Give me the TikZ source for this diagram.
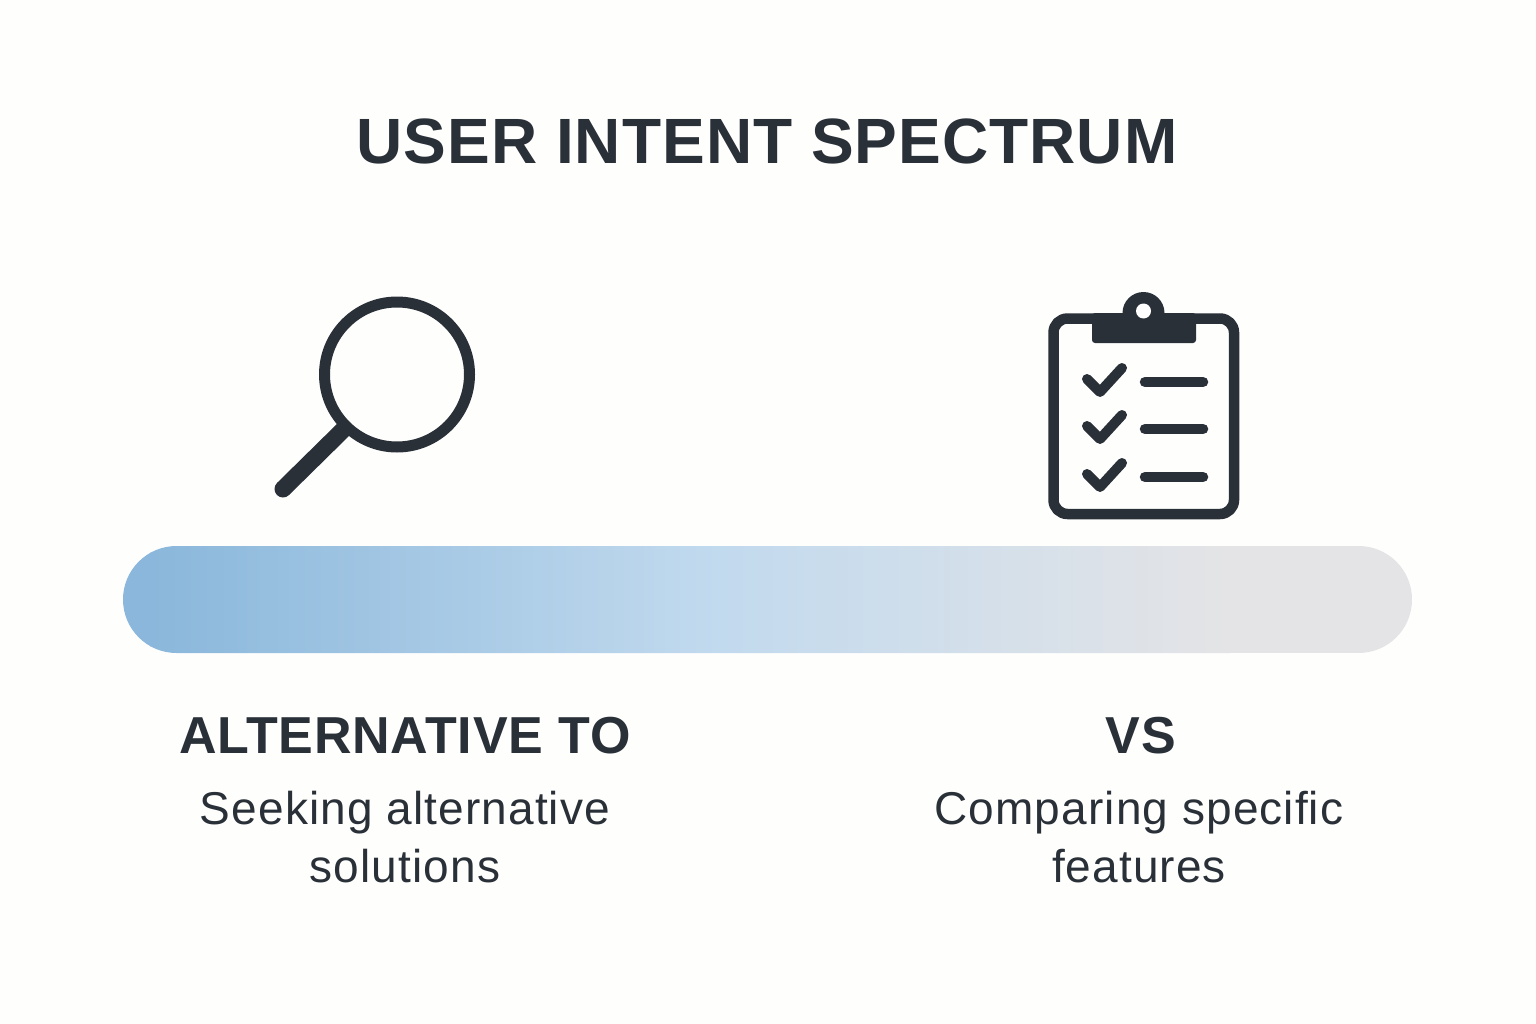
\documentclass[tikz,border=0pt]{standalone}
\usepackage{fontspec}
\setmainfont{Liberation Sans}
\newfontfamily\titlefont[LetterSpace=1.6]{Liberation Sans}
\newfontfamily\headfont[LetterSpace=1.5]{Liberation Sans}
\newfontfamily\subfont[LetterSpace=2.4]{Liberation Sans}
\definecolor{ink}{HTML}{2A3038}
\definecolor{paper}{HTML}{FEFEFD}
\definecolor{barA}{HTML}{8AB7DB}
\definecolor{barB}{HTML}{C2DAEE}
\definecolor{barC}{HTML}{E4E4E6}
\tikzset{x=1pt,y=-1pt,
  icon/.style={draw=ink,line cap=round,line join=round},
  titletxt/.style={text=ink,font=\fontsize{64}{70}\titlefont\bfseries,inner sep=0pt,anchor=center},
  headtxt/.style={text=ink,font=\fontsize{52}{58}\headfont\bfseries,inner sep=0pt,anchor=center},
  subtxt/.style={text=ink,font=\fontsize{46}{58}\subfont,inner sep=0pt,anchor=center,align=center}}
\begin{document}
\begin{tikzpicture}
\useasboundingbox (0,0) rectangle (1536,1024);
\fill[paper] (0,0) rectangle (1536,1024);
\node[titletxt] (title) at (767,141) {USER INTENT SPECTRUM};
% magnifier
\draw[icon,line width=17pt] (345,428) -- (283,489);
\fill[paper] (397,374.5) circle (70);
\draw[icon,line width=11pt] (397,374.5) circle (72.5);
% clipboard
\draw[icon,line width=10.5pt,rounded corners=14pt] (1053.5,318.5) rectangle (1234,514);
\fill[ink,rounded corners=3pt] (1092,313) rectangle (1196,343);
\fill[ink] (1143.5,313) circle (21);
\fill[white] (1143.5,311) circle (7.5);
\foreach \y in {0,47,95}{
 \draw[icon,line width=10pt] (1087,379+\y) -- (1100,392+\y) -- (1122,368+\y);
 \draw[icon,line width=10.5pt] (1145,382+\y) -- (1203,382+\y);
}
% bar
\begin{scope}
\clip[rounded corners=53.5pt] (123,546) rectangle (1412,653);
\shade[left color=barA,right color=barB] (150,546) rectangle (720,653);
\fill[barA] (123,546) rectangle (150.5,653);
\shade[left color=barB,right color=barC] (720,546) rectangle (1230,653);
\fill[barC] (1229.5,546) rectangle (1412,653);
\end{scope}
\node[headtxt] (h1) at (405,736) {ALTERNATIVE TO};
\node[headtxt] (h2) at (1141,736) {VS};
\node[subtxt] (s1) at (405,837) {Seeking alternative\\solutions};
\node[subtxt] (s2) at (1139,837) {Comparing specific\\features};
\end{tikzpicture}
\end{document}
